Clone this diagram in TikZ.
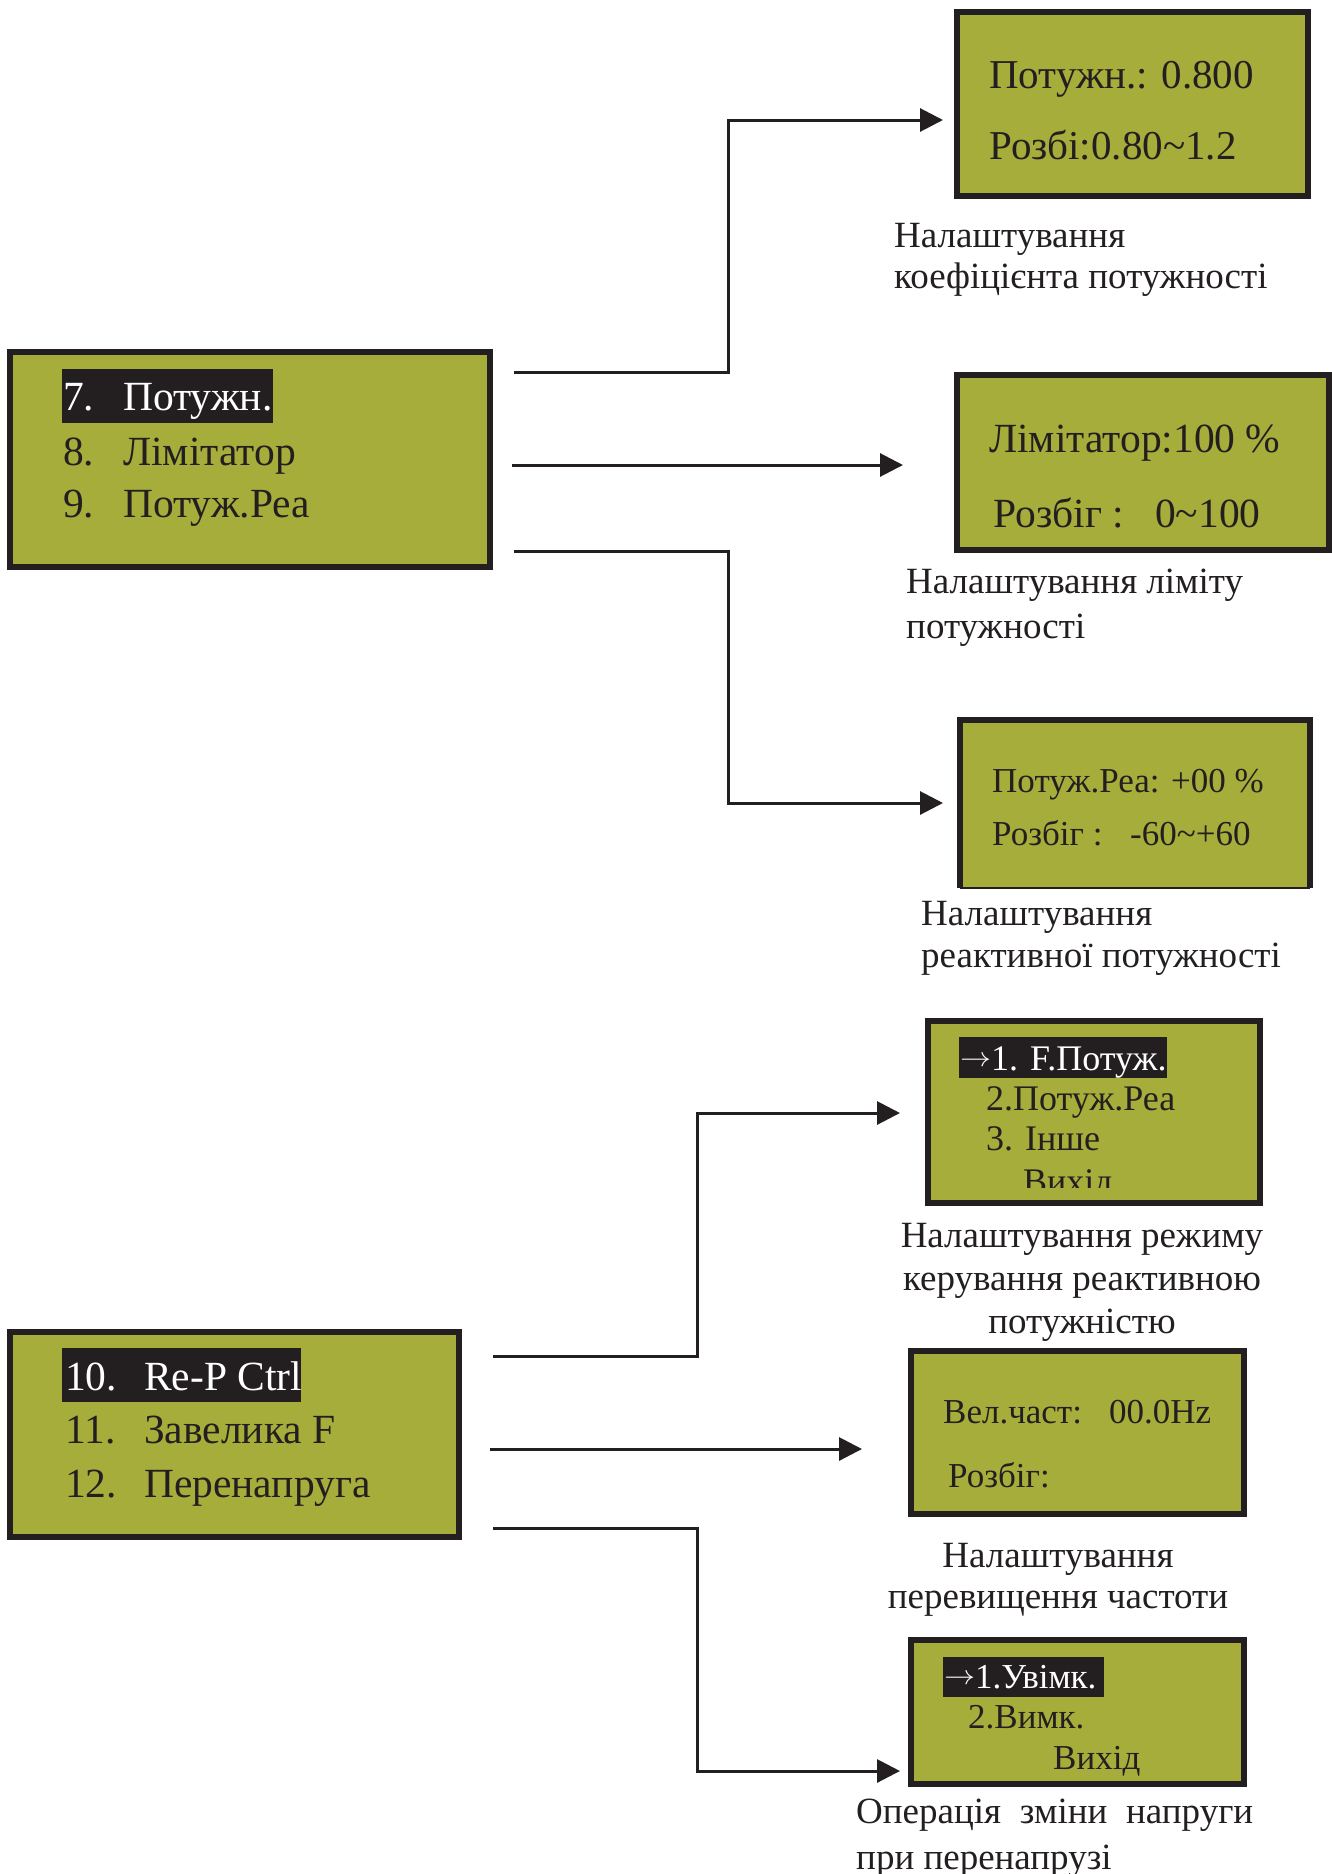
\documentclass[tikz,border=0pt]{standalone}
\usepackage{fontspec}
\setmainfont{Liberation Serif}
\usetikzlibrary{arrows.meta}
\definecolor{lcdg}{HTML}{A7AD3A}
\definecolor{dk}{HTML}{231F20}
\newcommand{\rarr}{\raisebox{4pt}{\resizebox{31pt}{10pt}{$\rightarrow$}}}
\tikzset{
  lcd/.style={draw=dk, line width=6pt, fill=lcdg, inner sep=0pt, rectangle},
  lcdfill/.style={fill=lcdg, inner sep=0pt, rectangle},
  txt/.style={anchor=base west, inner sep=0pt, text=dk},
  wtxt/.style={anchor=base west, inner sep=0pt, text=white},
  ctxt/.style={anchor=base, inner sep=0pt, text=dk},
  conn/.style={draw=dk, line width=3pt, -{Triangle[length=23pt,width=23pt]}},
  hl/.style={fill=dk},
  fA/.style={font=\fontsize{41.5}{48}\selectfont},
  fB/.style={font=\fontsize{41}{46}\selectfont},
  fC/.style={font=\fontsize{41.5}{48}\selectfont},
  fD/.style={font=\fontsize{35}{40}\selectfont},
  fE/.style={font=\fontsize{36}{40}\selectfont},
  fF/.style={font=\fontsize{35}{42}\selectfont},
  fL/.style={font=\fontsize{37}{44}\selectfont}
}
\begin{document}
\begin{tikzpicture}[x=1pt,y=-1pt]
\useasboundingbox (0,0) rectangle (1332,1874);
\fill[white] (0,0) rectangle (1332,1874);

% ---------- boxes ----------
\node[lcd, minimum width=480pt, minimum height=215pt] (A) at (250,459.5) {};
\node[lcd, minimum width=351pt, minimum height=184pt] (B) at (1132.5,104) {};
\node[lcd, minimum width=372pt, minimum height=175pt] (C) at (1143,462.5) {};
\node[lcdfill, minimum width=350pt, minimum height=168pt] (D) at (1135,804) {};
\draw[dk, line width=6pt] (D.south west) |- (D.north east) -- (D.south east);
\draw[dk, line width=1.5pt] (D.south west) -- (D.south east);
\node[lcd, minimum width=332pt, minimum height=182pt] (E) at (1094,1112) {};
\node[lcd, minimum width=333pt, minimum height=163pt] (F) at (1077.5,1432.5) {};
\node[lcd, minimum width=333pt, minimum height=144pt] (G) at (1077.5,1712) {};
\node[lcd, minimum width=449pt, minimum height=205pt] (H) at (234.5,1434.5) {};

% ---------- box A ----------
\fill[hl] (62,369) rectangle (273,423);
\node[wtxt, fA] (a1n) at (63,410) {7.};
\node[wtxt, fA] (a1t) at (123,410) {Потужн.};
\node[txt, fA] (a2n) at (63,465) {8.};
\node[txt, fA] (a2t) at (123,465) {Лімітатор};
\node[txt, fA] (a3n) at (63,517) {9.};
\node[txt, fA] (a3t) at (123,517) {Потуж.Реа};

% ---------- box B ----------
\node[txt, fB] (b1) at (989,88) {Потужн.: 0.800};
\node[txt, fB] (b2) at (989,159) {Розбі:0.80\char"007E 1.2};
\node[txt, fL] (lb1) at (894,247) {Налаштування};
\node[txt, fL] (lb2) at (894,288) {коефіцієнта потужності};

% ---------- box C ----------
\node[txt, fC] (c1) at (989,452) {Лімітатор:100 \%};
\node[txt, fC] (c2) at (993,527) {Розбіг :};
\node[txt, fC] (c3) at (1155,527) {0\char"007E 100};
\node[txt, fL] (lc1) at (906,593) {Налаштування ліміту};
\node[txt, fL] (lc2) at (906,638) {потужності};

% ---------- box D ----------
\node[txt, fD] (d1) at (992,792) {Потуж.Реа: +00 \%};
\node[txt, fD] (d2) at (992,845) {Розбіг :};
\node[txt, fD] (d3) at (1130,845) {-60\char"007E +60};
\node[txt, fL] (ld1) at (921,925) {Налаштування};
\node[txt, fL] (ld2) at (921,967) {реактивної потужності};

% ---------- box E ----------
\fill[hl] (959,1037) rectangle (1167,1078);
\node[wtxt, fE] (e1) at (960,1070) {\rarr1. F.Потуж.};
\node[txt, fE] (e2) at (986,1110) {2.Потуж.Реа};
\node[txt, fE] (e3) at (986,1150) {3. Інше};
\begin{scope}
\clip (960,1150) rectangle (1250,1187);
\node[txt, fE] (e4) at (1023,1193) {Вихід};
\end{scope}
\node[ctxt, fL] (le1) at (1082,1247) {Налаштування режиму};
\node[ctxt, fL] (le2) at (1082,1290) {керування реактивною};
\node[ctxt, fL] (le3) at (1082,1333) {потужністю};

% ---------- box F ----------
\node[txt, fF] (f1) at (943,1423) {Вел.част:};
\node[txt, fF] (f2) at (1109,1423) {00.0Hz};
\node[txt, fF] (f3) at (948,1487) {Розбіг:};
\node[ctxt, fL] (lf1) at (1058,1567) {Налаштування};
\node[ctxt, fL] (lf2) at (1058,1608) {перевищення частоти};

% ---------- box G ----------
\fill[hl] (943,1657) rectangle (1104,1697);
\node[wtxt, fF] (g1) at (944,1688) {\rarr1.Увімк.};
\node[txt, fF] (g2) at (968,1728) {2.Вимк.};
\node[txt, fF] (g3) at (1053,1769) {Вихід};
\node[txt, fL] (lg1) at (856,1823) {\hbox to 397pt{Операція\hfill зміни\hfill напруги}};
\node[txt, fL] (lg2) at (856,1869) {при перенапрузі};

% ---------- box H ----------
\fill[hl] (62,1348) rectangle (301,1402);
\node[wtxt, fA] (h1n) at (65,1390) {10.};
\node[wtxt, fA] (h1t) at (144,1390) {Re-P Ctrl};
\node[txt, fA] (h2n) at (65,1443) {11.};
\node[txt, fA] (h2t) at (144,1443) {Завелика F};
\node[txt, fA] (h3n) at (65,1497) {12.};
\node[txt, fA] (h3t) at (144,1497) {Перенапруга};

% ---------- connectors ----------
\coordinate (s1) at (514,372);
\coordinate (t1) at (943,120);
\coordinate (s2) at (512,465);
\coordinate (t2) at (903,465);
\coordinate (s3) at (514,551);
\coordinate (t3) at (943,803);
\coordinate (s4) at (493,1356);
\coordinate (t4) at (900,1113);
\coordinate (s5) at (490,1449);
\coordinate (t5) at (862,1449);
\coordinate (s6) at (493,1528);
\coordinate (t6) at (900,1771);

\draw[conn] (s1) -- ++(214,0) |- (t1);
\draw[conn] (s2) -- (t2);
\draw[conn] (s3) -- ++(214,0) |- (t3);
\draw[conn] (s4) -- ++(204,0) |- (t4);
\draw[conn] (s5) -- (t5);
\draw[conn] (s6) -- ++(204,0) |- (t6);
\end{tikzpicture}
\end{document}
